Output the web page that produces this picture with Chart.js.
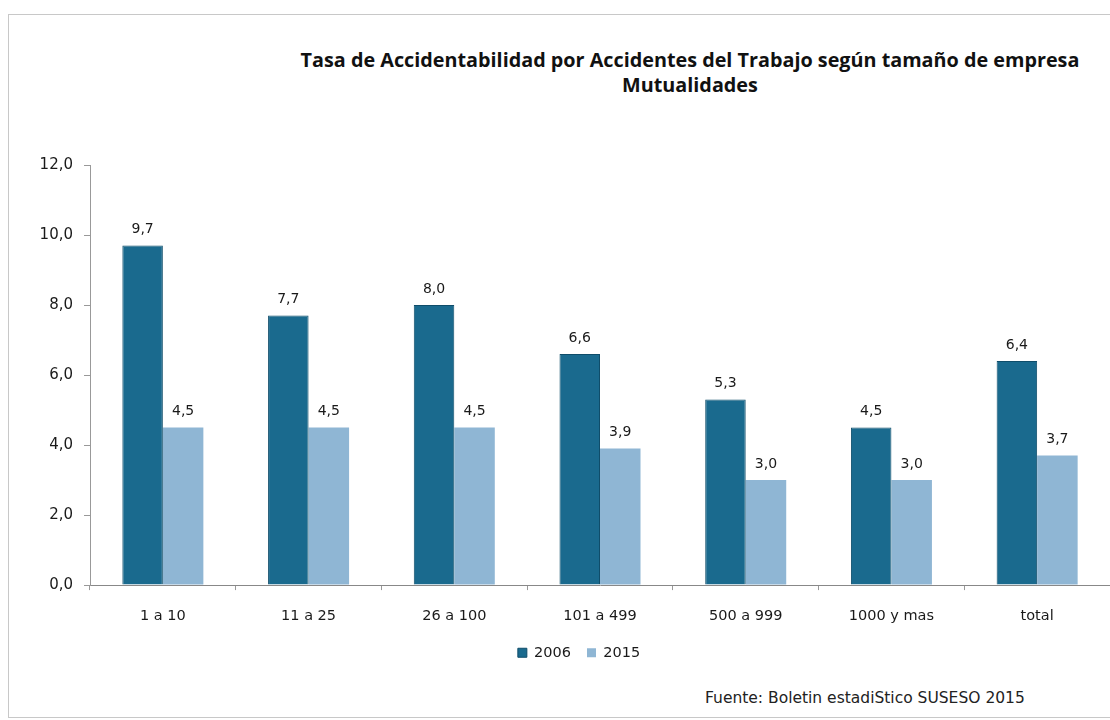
<!DOCTYPE html>
<html lang="es">
<head>
<meta charset="utf-8">
<title>Tasa de Accidentabilidad</title>
<script src="https://cdn.jsdelivr.net/npm/chart.js@4.4.0/dist/chart.umd.min.js"></script>
<style>
  body { margin: 0; background: #fff; width: 1110px; height: 720px; overflow: hidden; position: relative; }
  /* marco del grafico */
  .marco { position: absolute; left: 8px; top: 14px; width: 1120px; height: 702px;
           border-top: 1px solid #c8c8c8; border-left: 1px solid #c8c8c8; border-bottom: 1px solid #c8c8c8; }
  .titulo { position: absolute; left: 240px; width: 900px; top: 47px; text-align: center;
            font: 700 19.8px "Open Sans", sans-serif; line-height: 25px; color: #111; }
  .fuente { position: absolute; left: 705px; top: 689px; font: 15.5px "DejaVu Sans", sans-serif; color: #222; }
  #miGrafico { position: absolute; left: 0; top: 130px; }
</style>
</head>
<body>
<div class="marco"></div>
<div class="titulo">Tasa de Accidentabilidad por Accidentes del Trabajo según tamaño de empresa<br>Mutualidades</div>
<canvas id="miGrafico" width="1110" height="558"></canvas>
<div class="fuente">Fuente: Boletin estadiStico SUSESO 2015</div>
<script>
// Datos del grafico
const categorias = ["1 a 10", "11 a 25", "26 a 100", "101 a 499", "500 a 999", "1000 y mas", "total"];
const tasa2006 = [9.7, 7.7, 8.0, 6.6, 5.3, 4.5, 6.4];
const tasa2015 = [4.5, 4.5, 4.5, 3.9, 3.0, 3.0, 3.7];
const ticksY = [0, 2, 4, 6, 8, 10, 12];

// formato con coma decimal
const formatear = (v) => Number(v).toFixed(1).replace(".", ",");

// etiquetas de valor sobre cada barra
const etiquetasPlugin = {
  id: "etiquetas",
  afterDatasetsDraw(chart) {
    const ctx = chart.ctx;
    ctx.save();
    ctx.font = "14px 'DejaVu Sans'";
    ctx.fillStyle = "#1a1a1a";
    ctx.textAlign = "center";
    ctx.textBaseline = "bottom";
    chart.data.datasets.forEach((ds, i) => {
      chart.getDatasetMeta(i).data.forEach((barra, j) => {
        ctx.fillText(formatear(ds.data[j]), barra.x, barra.y - 9);
      });
    });
    ctx.restore();
  }
};

// la leyenda del original esta un poco a la derecha y mas cerca del eje
const leyendaPlugin = {
  id: "ajusteLeyenda",
  afterLayout(chart) {
    const ley = chart.legend;
    if (!ley) return;
    ley.left += 24; ley.right += 24;
    ley.top -= 12; ley.bottom -= 12;
  }
};

const datos = {
  labels: categorias,
  datasets: [
    {
      label: "2006",
      data: tasa2006,
      backgroundColor: "#1a6a8e",
      borderColor: "#0f4d6a",
      borderWidth: 1,
      categoryPercentage: 0.556,
      barPercentage: 1.0
    },
    {
      label: "2015",
      data: tasa2015,
      backgroundColor: "#8fb6d4",
      borderWidth: 0,
      categoryPercentage: 0.556,
      barPercentage: 1.0
    }
  ]
};

const config = {
  type: "bar",
  data: datos,
  plugins: [etiquetasPlugin, leyendaPlugin],
  options: {
    responsive: false,
    animation: false,
    layout: { padding: { top: 35, left: 0, right: 0, bottom: 6 } },
    plugins: {
      title: { display: false },
      tooltip: { enabled: false },
      legend: {
        position: "bottom",
        labels: {
          boxWidth: 9,
          boxHeight: 9,
          padding: 16,
          color: "#1a1a1a",
          font: { family: "DejaVu Sans", size: 14.5 }
        }
      }
    },
    scales: {
      x: {
        grid: { drawOnChartArea: false, drawTicks: true, tickLength: 5, color: "#999", offset: true },
        border: { display: true, color: "#888" },
        ticks: { color: "#1a1a1a", padding: 17, font: { family: "DejaVu Sans", size: 14.5 } }
      },
      y: {
        min: 0,
        max: 12,
        afterFit: (escala) => { escala.width = 90; },
        afterBuildTicks: (escala) => { escala.ticks = ticksY.map((v) => ({ value: v })); },
        grid: { drawOnChartArea: false, drawTicks: true, tickLength: 6, color: "#999" },
        border: { display: true, color: "#999" },
        ticks: {
          color: "#1a1a1a",
          padding: 11,
          font: { family: "DejaVu Sans", size: 15 },
          callback: (v) => formatear(v)
        }
      }
    }
  }
};

const ctx = document.getElementById("miGrafico").getContext("2d");
new Chart(ctx, config);
</script>
</body>
</html>
